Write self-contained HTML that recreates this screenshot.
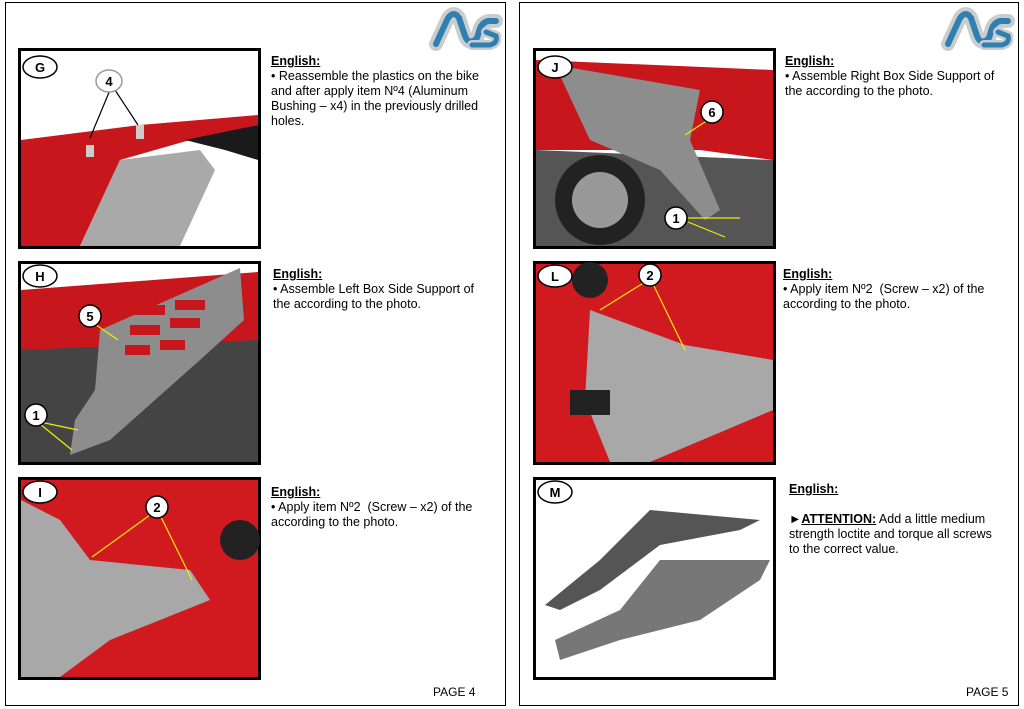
<!DOCTYPE html><html><head><meta charset="utf-8"><style>
body{margin:0;width:1024px;height:709px;background:#fff;font-family:"Liberation Sans",Arial,sans-serif;overflow:hidden;position:relative}
.t{position:absolute;font-size:12.5px;line-height:15px;color:#000}
.t b{text-decoration:underline}
</style></head><body>
<svg width="1024" height="709" style="position:absolute;left:0;top:0" font-family="Liberation Sans,Arial,sans-serif">
<rect x="5.5" y="2.5" width="500" height="703" fill="none" stroke="#000"/>
<rect x="519.5" y="2.5" width="499" height="703" fill="none" stroke="#000"/>
<g id="logo" transform="translate(430,8)">
<path d="M6 36 L18 10 Q24 2 29 10 L35 28 Q39 38 47 30 L50 20 Q54 12 62 13 L66 13" fill="none" stroke="#c9cdd0" stroke-width="14" stroke-linecap="round" stroke-linejoin="round"/>
<path d="M6 36 L18 10 Q24 2 29 10 L35 28 Q39 38 47 30 L50 20 Q54 12 62 13 L66 13" fill="none" stroke="#2f7fb0" stroke-width="6" stroke-linecap="round" stroke-linejoin="round"/>
<path d="M42 37 L60 37 Q68 35 66 28 L56 24" fill="none" stroke="#c9cdd0" stroke-width="10" stroke-linecap="round"/>
<path d="M42 37 L60 37 Q68 35 66 28 L56 24" fill="none" stroke="#2f7fb0" stroke-width="5" stroke-linecap="round"/>
</g>
<use href="#logo" transform="translate(512,0)"/>

<rect x="19.5" y="49.5" width="240" height="198" fill="#fff" stroke="#000" stroke-width="3"/>
<polygon points="21,140 140,125 258,115 258,125 190,140 120,160 80,246 21,246" fill="#c8161d"/>
<polygon points="120,160 200,150 215,170 180,246 80,246" fill="#a9a9a9"/>
<polygon points="185,140 258,125 258,160 225,150" fill="#1a1a1a"/>
<rect x="86" y="145" width="8" height="12" fill="#ccc"/><rect x="136" y="125" width="8" height="14" fill="#ccc"/>
<rect x="19.5" y="262.5" width="240" height="201" fill="#fff" stroke="#000" stroke-width="3"/>
<polygon points="21,290 258,272 258,350 21,350" fill="#c8161d"/>
<polygon points="21,350 258,340 258,462 21,462" fill="#444"/>
<polygon points="100,330 240,268 244,320 200,360 110,440 70,455 75,420 95,390" fill="#8d8d8d"/>
<g fill="#c8161d"><rect x="135" y="305" width="30" height="10"/><rect x="175" y="300" width="30" height="10"/><rect x="130" y="325" width="30" height="10"/><rect x="170" y="318" width="30" height="10"/><rect x="125" y="345" width="25" height="10"/><rect x="160" y="340" width="25" height="10"/></g>
<rect x="19.5" y="478.5" width="240" height="200" fill="#fff" stroke="#000" stroke-width="3"/>
<polygon points="21,480 258,480 258,677 21,677" fill="#d11a20"/>
<polygon points="21,500 60,520 90,560 190,570 210,600 110,640 60,677 21,677" fill="#a8a8a8"/>
<circle cx="240" cy="540" r="20" fill="#222"/>
<rect x="534.5" y="49.5" width="240" height="198" fill="#fff" stroke="#000" stroke-width="3"/>
<polygon points="536,60 773,70 773,160 700,150 536,150" fill="#c8161d"/>
<polygon points="536,150 773,160 773,246 536,246" fill="#555"/>
<circle cx="600" cy="200" r="45" fill="#222"/><circle cx="600" cy="200" r="28" fill="#999"/>
<polygon points="555,65 700,90 690,140 720,210 705,220 660,170 590,140" fill="#8d8d8d"/>
<rect x="534.5" y="262.5" width="240" height="201" fill="#fff" stroke="#000" stroke-width="3"/>
<polygon points="536,264 773,264 773,462 536,462" fill="#d11a20"/>
<polygon points="590,310 685,345 773,360 773,410 650,462 610,462 585,400" fill="#a8a8a8"/>
<circle cx="590" cy="280" r="18" fill="#222"/>
<rect x="570" y="390" width="40" height="25" fill="#222"/>
<rect x="534.5" y="478.5" width="240" height="200" fill="#fff" stroke="#000" stroke-width="3"/>
<polygon points="545,605 600,560 650,510 760,520 740,530 660,545 600,590 560,610" fill="#555"/>
<polygon points="555,640 620,610 660,560 770,560 760,580 700,620 620,640 560,660" fill="#777"/>
<g stroke="#000" stroke-width="1.2" fill="none"><line x1="110" y1="90" x2="90" y2="138"/><line x1="115" y1="90" x2="138" y2="125"/></g>
<g stroke="#ee0" stroke-width="1.2" fill="none">
<line x1="92" y1="322" x2="118" y2="340"/><line x1="40" y1="422" x2="78" y2="430"/><line x1="40" y1="424" x2="72" y2="450"/>
<line x1="150" y1="515" x2="92" y2="557"/><line x1="160" y1="515" x2="192" y2="580"/>
<line x1="708" y1="120" x2="685" y2="135"/><line x1="688" y1="218" x2="740" y2="218"/><line x1="688" y1="222" x2="725" y2="237"/>
<line x1="645" y1="282" x2="600" y2="310"/><line x1="652" y1="282" x2="685" y2="350"/></g>
<g fill="#fff" stroke="#000" stroke-width="1.5">
<ellipse cx="40" cy="67" rx="17" ry="11"/><ellipse cx="40" cy="276" rx="17" ry="11"/><ellipse cx="40" cy="492" rx="17" ry="11"/>
<ellipse cx="555" cy="67" rx="17" ry="11"/><ellipse cx="555" cy="276" rx="17" ry="11"/><ellipse cx="555" cy="492" rx="17" ry="11"/>
<ellipse cx="109" cy="81" rx="13" ry="11" stroke="#999"/>
<circle cx="90" cy="316" r="11"/><circle cx="36" cy="415" r="11"/><circle cx="157" cy="507" r="11"/>
<circle cx="712" cy="112" r="11"/><circle cx="676" cy="218" r="11"/><circle cx="650" cy="275" r="11"/>
</g>
<g font-size="13" font-weight="bold" text-anchor="middle" fill="#000">
<text x="40" y="72">G</text><text x="40" y="281">H</text><text x="40" y="497">I</text>
<text x="555" y="72">J</text><text x="555" y="281">L</text><text x="555" y="497">M</text>
<text x="109" y="86">4</text><text x="90" y="321">5</text><text x="36" y="420">1</text><text x="157" y="512">2</text>
<text x="712" y="117">6</text><text x="676" y="223">1</text><text x="650" y="280">2</text></g>
<text x="433" y="696" font-size="12">PAGE 4</text><text x="966" y="696" font-size="12">PAGE 5</text>
</svg>
<div class="t" style="left:271px;top:54px;width:225px"><b>English:</b><br>• Reassemble the plastics on the bike and after apply item Nº4 (Aluminum Bushing – x4) in the previously drilled holes.</div>
<div class="t" style="left:273px;top:267px;width:215px"><b>English:</b><br>• Assemble Left Box Side Support of the according to the photo.</div>
<div class="t" style="left:271px;top:485px;width:225px"><b>English:</b><br>• Apply item Nº2 &nbsp;(Screw – x2) of the according to the photo.</div>
<div class="t" style="left:785px;top:54px;width:222px"><b>English:</b><br>• Assemble Right Box Side Support of the according to the photo.</div>
<div class="t" style="left:783px;top:267px;width:228px"><b>English:</b><br>• Apply item Nº2 &nbsp;(Screw – x2) of the according to the photo.</div>
<div class="t" style="left:789px;top:482px;width:212px"><b>English:</b><br><br>►<b>ATTENTION:</b> Add a little medium strength loctite and torque all screws to the correct value.</div>
</body></html>
